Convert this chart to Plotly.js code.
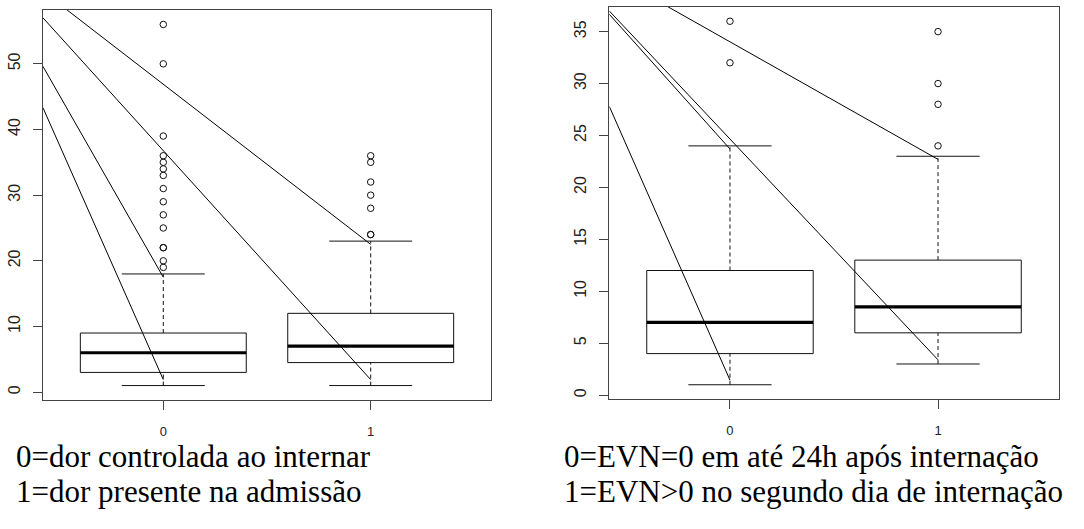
<!DOCTYPE html>
<html>
<head>
<meta charset="utf-8">
<script src="https://cdn.plot.ly/plotly-3.0.1.min.js"></script>
<style>
  html, body { margin: 0; padding: 0; background: #fff; }
  #chart { width: 1084px; height: 529px; }
</style>
</head>
<body>
<div id="chart"></div>
<script>
// ---------- data ----------
const groupLabels = ['0', '1'];

// Left panel: dor controlada ao internar (0) vs dor presente na admissão (1)
const leftQ1 = [3, 4.5];
const leftMedian = [6, 7];
const leftQ3 = [9, 12];
const leftLowerWhisker = [1, 1];
const leftUpperWhisker = [18, 23];
const leftOutliers0 = [19, 20, 22, 22, 25, 27, 29, 31, 33, 34, 35, 36, 39, 50, 56];
const leftOutliers1 = [24, 24, 28, 30, 32, 35, 36];
const leftYTicks = [0, 10, 20, 30, 40, 50];
// stray straight lines drawn over the left panel (start -> end, in data units)
const leftLineStartX = [0.533, 0.42, 0.42, 0.42];
const leftLineStartY = [58.28, 57.0, 49.6, 43.3];
const leftLineEndX = [2, 2, 1, 1];
const leftLineEndY = [22.5, 1.9, 17.5, 1.9];

// Right panel: EVN=0 em até 24h (0) vs EVN>0 no segundo dia (1)
const rightQ1 = [4, 6];
const rightMedian = [7, 8.5];
const rightQ3 = [12, 13];
const rightLowerWhisker = [1, 3];
const rightUpperWhisker = [24, 23];
const rightOutliers0 = [32, 36];
const rightOutliers1 = [24, 28, 30, 35];
const rightYTicks = [0, 5, 10, 15, 20, 25, 30, 35];
const rightLineStartX = [0.695, 0.42, 0.42, 0.42];
const rightLineStartY = [37.47, 36.67, 36.99, 27.8];
const rightLineEndX = [2, 1, 2, 1];
const rightLineEndY = [22.7, 23.7, 3.4, 1.45];

const leftCaption = ['0=dor controlada ao internar', '1=dor presente na admissão'];
const rightCaption = ['0=EVN=0 em até 24h após internação', '1=EVN>0 no segundo dia de internação'];

// ---------- drawing ----------
const INK = '#111';
const FRAME = '#444';
const HALF_BOX = 0.4;
const HALF_CAP = 0.2;
const SANS = 'Liberation Sans';
const SERIF = 'Liberation Serif';

function panelTraces(xa, ya, q1, med, q3, lo, hi, outlierSets, lsx, lsy, lex, ley) {
  const pos = groupLabels.map((_, i) => i + 1);
  const bx = [], by = [], mx = [], my = [], wx = [], wy = [], cx = [], cy = [];
  pos.forEach((p, i) => {
    bx.push(p - HALF_BOX, p + HALF_BOX, p + HALF_BOX, p - HALF_BOX, p - HALF_BOX, null);
    by.push(q1[i], q1[i], q3[i], q3[i], q1[i], null);
    mx.push(p - HALF_BOX, p + HALF_BOX, null);
    my.push(med[i], med[i], null);
    wx.push(p, p, null, p, p, null);
    wy.push(q3[i], hi[i], null, lo[i], q1[i], null);
    cx.push(p - HALF_CAP, p + HALF_CAP, null, p - HALF_CAP, p + HALF_CAP, null);
    cy.push(hi[i], hi[i], null, lo[i], lo[i], null);
  });
  const ox = [], oy = [];
  outlierSets.forEach((set, i) => set.forEach(v => { ox.push(pos[i]); oy.push(v); }));
  const gx = [], gy = [];
  lsx.forEach((_, i) => { gx.push(lsx[i], lex[i], null); gy.push(lsy[i], ley[i], null); });
  const common = { xaxis: xa, yaxis: ya, type: 'scatter', hoverinfo: 'skip', showlegend: false };
  return [
    Object.assign({}, common, { x: wx, y: wy, mode: 'lines', line: { color: INK, width: 1, dash: '4px,3px' } }),
    Object.assign({}, common, { x: cx, y: cy, mode: 'lines', line: { color: INK, width: 1 } }),
    Object.assign({}, common, { x: bx, y: by, mode: 'lines', line: { color: INK, width: 1 } }),
    Object.assign({}, common, { x: mx, y: my, mode: 'lines', line: { color: '#000', width: 3.2 } }),
    Object.assign({}, common, { x: ox, y: oy, mode: 'markers',
      marker: { symbol: 'circle-open', size: 6.5, color: INK, line: { width: 1, color: INK } } }),
    Object.assign({}, common, { x: gx, y: gy, mode: 'lines', line: { color: '#000', width: 1 } })
  ];
}

const traces = [].concat(
  panelTraces('x', 'y', leftQ1, leftMedian, leftQ3, leftLowerWhisker, leftUpperWhisker,
    [leftOutliers0, leftOutliers1], leftLineStartX, leftLineStartY, leftLineEndX, leftLineEndY),
  panelTraces('x2', 'y2', rightQ1, rightMedian, rightQ3, rightLowerWhisker, rightUpperWhisker,
    [rightOutliers0, rightOutliers1], rightLineStartX, rightLineStartY, rightLineEndX, rightLineEndY)
);

const W = 1084, H = 529;

function xAxis(domain, anchor) {
  return {
    domain: domain, anchor: anchor, range: [0.42, 2.58],
    tickvals: groupLabels.map((_, i) => i + 1), ticktext: groupLabels,
    showline: true, mirror: true, linecolor: FRAME, linewidth: 1,
    ticks: 'outside', ticklen: 9, tickcolor: FRAME, tickwidth: 1,
    ticklabelstandoff: 10,
    showgrid: false, zeroline: false, fixedrange: true,
    tickfont: { family: SANS, size: 13, color: '#222' }
  };
}
function yAxis(domain, anchor, range, ticks) {
  return {
    domain: domain, anchor: anchor, range: range, tickvals: ticks,
    showline: true, mirror: true, linecolor: FRAME, linewidth: 1,
    ticks: 'outside', ticklen: 9, tickcolor: FRAME, tickwidth: 1,
    tickangle: -90, ticklabelstandoff: 7,
    showgrid: false, zeroline: false, fixedrange: true,
    tickfont: { family: SANS, size: 16, color: '#222' }
  };
}

const captionFont = { family: SERIF, size: 31, color: '#000' };
const annotations = [
  { text: leftCaption[0], x: 14 / W, y: 1 - 456 / H },
  { text: leftCaption[1], x: 14 / W, y: 1 - 491 / H },
  { text: rightCaption[0], x: 562 / W, y: 1 - 456 / H },
  { text: rightCaption[1], x: 562 / W, y: 1 - 491 / H }
].map(a => ({
  text: a.text, x: a.x, y: a.y,
  xref: 'paper', yref: 'paper', xanchor: 'left', yanchor: 'middle', showarrow: false,
  font: { family: captionFont.family, size: captionFont.size, color: captionFont.color }
}));

const layout = {
  width: W, height: H,
  margin: { l: 0, r: 0, t: 0, b: 0, pad: 0 },
  paper_bgcolor: '#fff', plot_bgcolor: '#fff',
  showlegend: false,
  xaxis: xAxis([43 / W, 491 / W], 'y'),
  yaxis: yAxis([(H - 400) / H, (H - 10) / H], 'x', [-1.2, 58.2], leftYTicks),
  xaxis2: xAxis([609.3 / W, 1058.7 / W], 'y2'),
  yaxis2: yAxis([(H - 399.3) / H, (H - 6.7) / H], 'x2', [-0.4, 37.4], rightYTicks),
  annotations: annotations
};

Plotly.newPlot('chart', traces, layout, { staticPlot: true, displayModeBar: false }).then(gd => {
  // make sure the captions use the serif face
  gd.querySelectorAll('.annotation-text').forEach(t => {
    t.style.fontFamily = '"Liberation Serif", "Times New Roman", serif';
  });
});
</script>
</body>
</html>
